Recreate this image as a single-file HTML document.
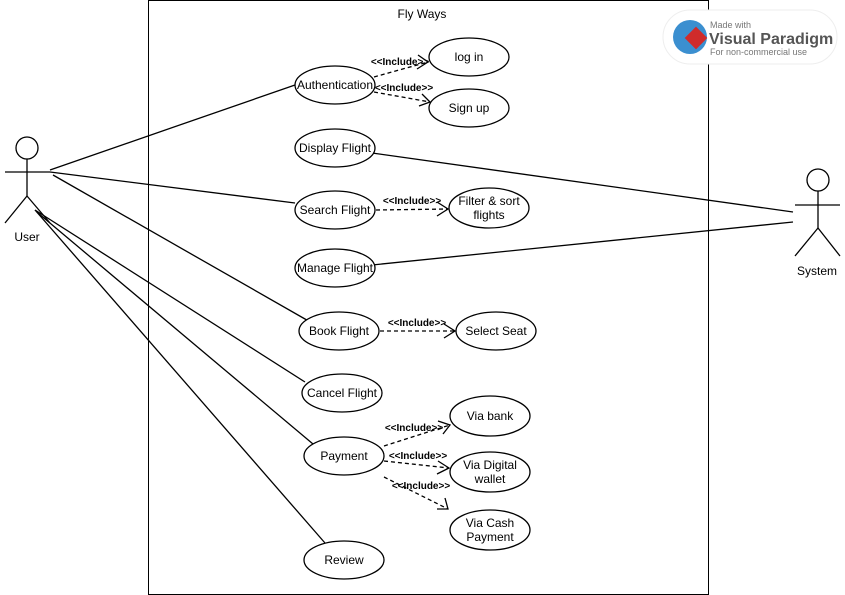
<!DOCTYPE html>
<html><head><meta charset="utf-8"><style>body{margin:0;background:#fff}svg{display:block}text{font-family:"Liberation Sans",Arial,sans-serif;font-size:12px;fill:#000}</style></head><body>
<svg width="845" height="595" viewBox="0 0 845 595" xmlns="http://www.w3.org/2000/svg">
<rect width="845" height="595" fill="#fff"/>
<rect x="148.5" y="0.5" width="560" height="594" fill="none" stroke="#000"/>
<text x="422" y="18" text-anchor="middle">Fly Ways</text>
<g stroke="#000" fill="none" stroke-width="1.3">
<circle cx="27" cy="148" r="11"/><line x1="27" y1="159" x2="27" y2="196"/><line x1="5" y1="172" x2="50" y2="172"/><line x1="27" y1="196" x2="5" y2="223"/><line x1="27" y1="196" x2="50" y2="223"/>
<circle cx="818" cy="180" r="11"/><line x1="818" y1="191" x2="818" y2="228"/><line x1="795" y1="205" x2="840" y2="205"/><line x1="818" y1="228" x2="795" y2="256"/><line x1="818" y1="228" x2="840" y2="256"/>
<line x1="50" y1="170" x2="295" y2="85"/>
<line x1="50" y1="172" x2="295" y2="203"/>
<line x1="53" y1="175" x2="312" y2="323"/>
<line x1="35" y1="210" x2="305" y2="382"/>
<line x1="38" y1="213" x2="313" y2="444"/>
<line x1="35" y1="210" x2="325" y2="543"/>
<line x1="372" y1="153" x2="793" y2="212"/>
<line x1="372" y1="265" x2="793" y2="222"/>
<g stroke-dasharray="4,3">
<line x1="374" y1="77" x2="428" y2="62"/>
<line x1="374" y1="92" x2="430" y2="102"/>
<line x1="376" y1="210" x2="448" y2="209"/>
<line x1="380" y1="331" x2="455" y2="331"/>
<line x1="384" y1="446" x2="450" y2="425"/>
<line x1="384" y1="461" x2="449" y2="468"/>
<line x1="384" y1="477" x2="448" y2="509"/>
</g>
<polyline points="418,55 428,62 417,69"/>
<polyline points="422,94 430,102 419,106"/>
<polyline points="437,202 448,209 437,216"/>
<polyline points="444,324 455,331 444,338"/>
<polyline points="438,421 450,425 443,434"/>
<polyline points="438,461 449,468 437,474"/>
<polyline points="445,498 448,509 437,509"/>
</g>
<g stroke="#000" fill="#fff" stroke-width="1.3">
<ellipse cx="335" cy="85" rx="40" ry="19"/>
<ellipse cx="469" cy="57" rx="40" ry="19"/>
<ellipse cx="469" cy="108" rx="40" ry="19"/>
<ellipse cx="335" cy="148" rx="40" ry="19"/>
<ellipse cx="335" cy="210" rx="40" ry="19"/>
<ellipse cx="489" cy="208" rx="40" ry="20"/>
<ellipse cx="335" cy="268" rx="40" ry="19"/>
<ellipse cx="339" cy="331" rx="40" ry="19"/>
<ellipse cx="496" cy="331" rx="40" ry="19"/>
<ellipse cx="342" cy="393" rx="40" ry="19"/>
<ellipse cx="344" cy="456" rx="40" ry="19"/>
<ellipse cx="490" cy="416" rx="40" ry="20"/>
<ellipse cx="490" cy="472" rx="40" ry="20"/>
<ellipse cx="490" cy="530" rx="40" ry="20"/>
<ellipse cx="344" cy="560" rx="40" ry="19"/>
</g>
<g text-anchor="middle">
<text x="335" y="89">Authentication</text>
<text x="469" y="61">log in</text>
<text x="469" y="112">Sign up</text>
<text x="335" y="152">Display Flight</text>
<text x="335" y="214">Search Flight</text>
<text x="489" y="205">Filter &amp; sort</text><text x="489" y="219">flights</text>
<text x="335" y="272">Manage Flight</text>
<text x="339" y="335">Book Flight</text>
<text x="496" y="335">Select Seat</text>
<text x="342" y="397">Cancel Flight</text>
<text x="344" y="460">Payment</text>
<text x="490" y="420">Via bank</text>
<text x="490" y="469">Via Digital</text><text x="490" y="483">wallet</text>
<text x="490" y="527">Via Cash</text><text x="490" y="541">Payment</text>
<text x="344" y="564">Review</text>
<text x="27" y="241">User</text>
<text x="817" y="275">System</text>
<g style="font-size:10px;font-weight:bold">
<text x="400" y="65" style="font-size:10px">&lt;&lt;Include&gt;&gt;</text>
<text x="404" y="91" style="font-size:10px">&lt;&lt;Include&gt;&gt;</text>
<text x="412" y="204" style="font-size:10px">&lt;&lt;Include&gt;&gt;</text>
<text x="417" y="326" style="font-size:10px">&lt;&lt;Include&gt;&gt;</text>
<text x="414" y="431" style="font-size:10px">&lt;&lt;Include&gt;&gt;</text>
<text x="418" y="459" style="font-size:10px">&lt;&lt;Include&gt;&gt;</text>
<text x="421" y="489" style="font-size:10px">&lt;&lt;Include&gt;&gt;</text>
</g>
</g>
<rect x="663" y="10" width="174" height="54" rx="27" fill="#fff" stroke="#eee"/>
<circle cx="690" cy="37" r="17" fill="#3b8fd0"/>
<rect x="688" y="30" width="16" height="16" fill="#d02b2b" transform="rotate(45 696 38)"/>
<text x="710" y="28" style="font-size:9px;fill:#777">Made with</text>
<text x="709" y="44" style="font-size:16px;font-weight:bold;fill:#555">Visual Paradigm</text>
<text x="710" y="55" style="font-size:9px;fill:#777">For non-commercial use</text>
</svg>
</body></html>
